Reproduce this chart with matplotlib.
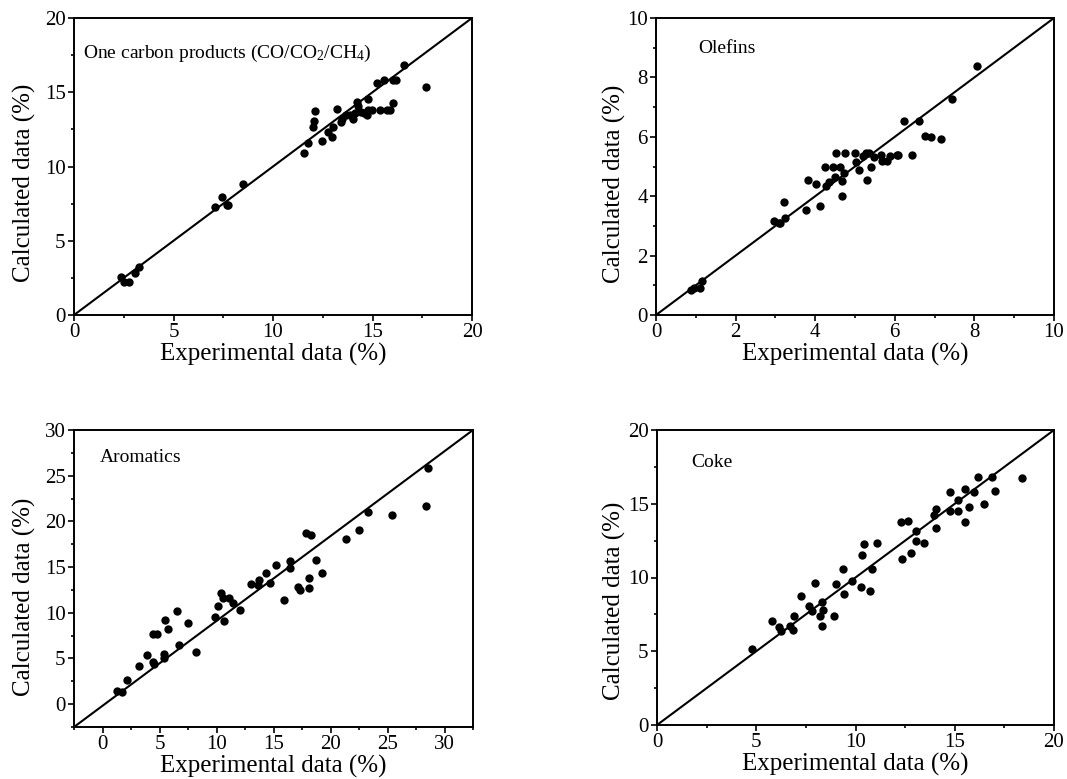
import matplotlib
matplotlib.use("Agg")
import matplotlib.pyplot as plt
from matplotlib.ticker import MultipleLocator

plt.rcParams['font.family'] = ['Liberation Serif', 'DejaVu Serif']
plt.rcParams['mathtext.fontset'] = 'custom'
plt.rcParams['mathtext.rm'] = 'Liberation Serif'
plt.rcParams['mathtext.it'] = 'Liberation Serif:italic'

# ---------------- data ----------------
# Panel 1: One carbon products
c1_exp = [2.36, 2.53, 2.76, 3.05, 3.28, 7.10, 7.46, 7.67, 7.75, 8.47,
          11.56, 11.78, 12.03, 12.06, 12.11, 12.45, 12.78, 12.95, 13.03, 13.23,
          13.40, 13.45, 13.67, 13.87, 14.04, 14.12, 14.24, 14.29, 14.40, 14.55,
          14.71, 14.76, 14.79, 14.96, 15.21, 15.38, 15.58, 15.74, 15.88, 16.01,
          16.05, 16.18, 16.57, 17.69]
c1_calc = [2.54, 2.22, 2.22, 2.85, 3.26, 7.26, 7.93, 7.44, 7.42, 8.83,
           10.89, 11.60, 12.64, 13.08, 13.74, 11.74, 12.34, 12.01, 12.64, 13.85,
           13.02, 13.18, 13.47, 13.47, 13.18, 13.58, 14.32, 14.07, 13.70, 13.60,
           13.47, 14.52, 13.80, 13.80, 15.64, 13.80, 15.82, 13.80, 13.80, 14.25,
           15.82, 15.82, 16.85, 15.33]

# Panel 2: Olefins
ol_exp = [0.89, 0.95, 1.10, 1.15, 2.97, 3.08, 3.12, 3.23, 3.22, 3.77,
          3.82, 4.02, 4.13, 4.24, 4.26, 4.35, 4.45, 4.49, 4.53, 4.63,
          4.67, 4.68, 4.72, 4.75, 5.00, 5.03, 5.10, 5.21, 5.28, 5.30,
          5.36, 5.39, 5.48, 5.65, 5.69, 5.81, 5.87, 6.05, 6.09, 6.22,
          6.42, 6.62, 6.76, 6.91, 7.15, 7.43, 8.06]
ol_calc = [0.84, 0.90, 0.90, 1.15, 3.18, 3.11, 3.11, 3.26, 3.79, 3.52,
           4.54, 4.40, 3.67, 5.00, 4.36, 4.49, 5.00, 4.66, 5.45, 4.99,
           4.01, 4.50, 4.78, 5.45, 5.45, 5.16, 4.87, 5.35, 5.45, 4.53,
           5.45, 4.98, 5.31, 5.39, 5.17, 5.17, 5.35, 5.39, 5.39, 6.52,
           5.39, 6.52, 6.02, 5.98, 5.92, 7.27, 8.37]

# Panel 3: Aromatics
ar_exp = [1.23, 1.67, 2.11, 3.22, 3.87, 4.39, 4.75, 4.45, 4.51, 5.39,
          5.42, 5.48, 5.71, 6.56, 6.74, 7.47, 8.17, 9.87, 10.17, 10.37,
          10.61, 10.67, 11.13, 11.49, 12.07, 13.04, 13.68, 13.74, 14.33, 14.65,
          15.24, 15.88, 16.41, 16.47, 17.14, 17.35, 17.87, 18.28, 18.11, 18.11,
          18.72, 19.28, 21.33, 22.50, 23.29, 25.43, 28.36, 28.57]
ar_calc = [1.46, 1.28, 2.67, 4.21, 5.38, 7.68, 7.68, 4.57, 4.39, 5.01,
           5.49, 9.26, 8.23, 10.14, 6.48, 8.89, 5.67, 9.51, 10.79, 12.18,
           11.60, 9.07, 11.60, 11.09, 10.35, 13.10, 12.99, 13.61, 14.38, 13.28,
           15.26, 11.42, 15.62, 14.89, 12.81, 12.44, 18.77, 18.55, 13.79, 12.73,
           15.77, 14.38, 18.08, 19.10, 21.04, 20.67, 21.66, 25.87]

# Panel 4: Coke
ck_exp = [4.79, 5.79, 6.13, 6.26, 6.72, 6.85, 6.90, 7.24, 7.66, 7.81,
          7.94, 8.19, 8.31, 8.36, 8.30, 8.92, 9.00, 9.37, 9.40, 9.82,
          10.26, 10.33, 10.41, 10.71, 10.83, 11.08, 12.31, 12.64, 12.34, 12.78,
          13.03, 13.06, 13.45, 13.94, 14.04, 14.07, 14.78, 14.78, 15.16, 15.16,
          15.50, 15.53, 15.72, 15.95, 16.17, 16.46, 16.88, 17.01, 18.40]
ck_calc = [5.13, 7.07, 6.62, 6.37, 6.73, 6.44, 7.39, 8.77, 8.07, 7.75,
           9.60, 7.41, 8.32, 7.80, 6.71, 7.39, 9.54, 10.58, 8.86, 9.79,
           9.38, 11.53, 12.25, 9.08, 10.58, 12.32, 13.74, 13.83, 11.23, 11.68,
           12.47, 13.18, 12.36, 14.24, 14.64, 13.38, 15.82, 14.51, 15.25, 14.49,
           16.00, 13.79, 14.80, 15.82, 16.84, 14.98, 16.84, 15.86, 16.77]

titles = ["One carbon products (CO/CO$_2$/CH$_4$)", "Olefins", "Aromatics", "Coke"]
x_label = "Experimental data (%)"
y_label = "Calculated data (%)"

c1_lim = ([0, 20], [0, 20])
ol_lim = ([0, 10], [0, 10])
ar_lim = ([-2.5, 32.5], [-2.5, 30])
ck_lim = ([0, 20], [0, 20])

# ---------------- layout ----------------
W, H = 1067, 779
fig = plt.figure(figsize=(W / 100, H / 100), dpi=100)

def px_axes(l, t, r, b):
    return fig.add_axes([l / W, 1 - b / H, (r - l) / W, (b - t) / H])

panels = [
    dict(box=(74, 18, 472, 315), x=c1_exp, y=c1_calc, lim=c1_lim, major=5, minor=2.5,
         title=titles[0], tpos=(0.023, 0.88), ylc=(-0.095, 0.445)),
    dict(box=(656, 18, 1054, 315), x=ol_exp, y=ol_calc, lim=ol_lim, major=2, minor=1,
         title=titles[1], tpos=(0.105, 0.896), ylc=(-0.075, 0.443)),
    dict(box=(74, 430, 473, 727), x=ar_exp, y=ar_calc, lim=ar_lim, major=5, minor=2.5,
         title=titles[2], tpos=(0.065, 0.907), ylc=(-0.095, 0.44)),
    dict(box=(657, 430, 1054, 725), x=ck_exp, y=ck_calc, lim=ck_lim, major=5, minor=2.5,
         title=titles[3], tpos=(0.086, 0.889), ylc=(-0.078, 0.42)),
]

for p in panels:
    ax = px_axes(*p['box'])
    xl, yl = p['lim']
    ax.plot(xl, yl, color='black', lw=1.5, zorder=2)
    ax.plot(p['x'], p['y'], 'o', color='black', ms=6, mew=0, zorder=3)
    ax.set_xlim(xl)
    ax.set_ylim(yl)
    ax.xaxis.set_major_locator(MultipleLocator(p['major']))
    ax.yaxis.set_major_locator(MultipleLocator(p['major']))
    ax.xaxis.set_minor_locator(MultipleLocator(p['minor']))
    ax.yaxis.set_minor_locator(MultipleLocator(p['minor']))
    ax.tick_params(which='both', direction='out', top=False, right=False,
                   width=1.2, labelsize=15, colors='black')
    ax.tick_params(which='major', length=4.5, pad=1.5)
    ax.tick_params(which='minor', length=2.5)
    for s in ax.spines.values():
        s.set_linewidth(1.4)
    ax.set_xlabel(x_label, fontsize=18)
    ax.set_ylabel(y_label, fontsize=18)
    ax.xaxis.set_label_coords(0.5, -0.093)
    ax.yaxis.set_label_coords(*p['ylc'])
    ax.text(p['tpos'][0], p['tpos'][1], p['title'], transform=ax.transAxes,
            fontsize=14, va='center', ha='left')

fig.savefig("out.png", dpi=100)
